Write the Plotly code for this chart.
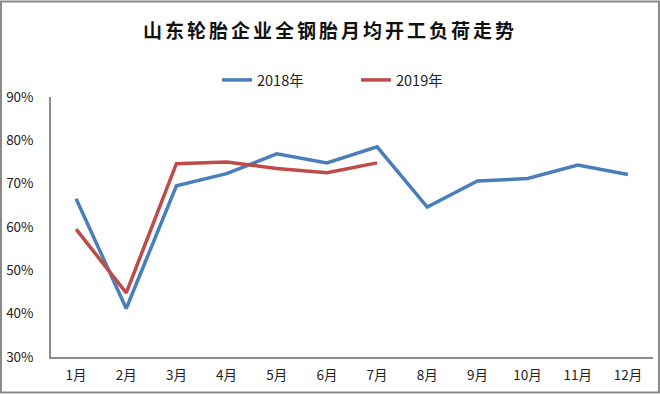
import plotly.graph_objects as go

months = ["1月", "2月", "3月", "4月", "5月", "6月", "7月", "8月", "9月", "10月", "11月", "12月"]
rate_2018 = [0.665, 0.412, 0.695, 0.723, 0.769, 0.748, 0.785, 0.646, 0.706, 0.712, 0.743, 0.721]
rate_2019 = [0.595, 0.448, 0.746, 0.750, 0.735, 0.725, 0.748]
y_ticks = [0.3, 0.4, 0.5, 0.6, 0.7, 0.8, 0.9]
y_tick_labels = ["30%", "40%", "50%", "60%", "70%", "80%", "90%"]

FONT = "Noto Sans CJK SC, Microsoft YaHei, sans-serif"

fig = go.Figure()
fig.add_trace(go.Scatter(x=months, y=rate_2018, mode="lines", name="2018年",
                         line=dict(color="#4A7EBB", width=3.5)))
fig.add_trace(go.Scatter(x=months[:len(rate_2019)], y=rate_2019, mode="lines", name="2019年",
                         line=dict(color="#BE4B48", width=3.5)))

L, R, T, B = 51, 7, 97, 37
W, H = 660, 394
pw, ph = W - L - R, H - T - B

fig.update_layout(
    width=W, height=H,
    margin=dict(l=L, r=R, t=T, b=B, autoexpand=False),
    paper_bgcolor="white", plot_bgcolor="white",
    font=dict(family=FONT, size=13, color="#222222"),
    title=dict(text="<span style='letter-spacing:3px'>山东轮胎企业全钢胎月均开工负荷走势</span>",
               x=0.5, xref="container", xanchor="center", y=1 - 31 / H, yanchor="middle",
               font=dict(family=FONT, size=19, color="#111111", weight="bold")),
    showlegend=True,
    legend=dict(orientation="h", xref="container", x=(222 - 5) / W, xanchor="left",
                yref="container", y=1 - 80 / H, yanchor="middle",
                entrywidth=94, entrywidthmode="pixels",
                font=dict(family=FONT, size=14.5, color="#222222"),
                bgcolor="rgba(0,0,0,0)"),
    xaxis=dict(type="category", categoryorder="array", categoryarray=months,
               range=[-0.5, 11.5], showgrid=False, zeroline=False,
               showline=True, linecolor="#8C8C8C", linewidth=1.5,
               ticks="", tickfont=dict(size=13.5, color="#222222"), ticklabelstandoff=5,
               fixedrange=True, automargin=False),
    yaxis=dict(range=[0.3, 0.9], tickvals=y_ticks, ticktext=y_tick_labels,
               showgrid=False, zeroline=False,
               showline=True, linecolor="#8C8C8C", linewidth=1.5,
               ticks="", tickfont=dict(size=13.5, color="#222222"), ticklabelstandoff=13,
               fixedrange=True, automargin=False),
    shapes=[dict(type="rect", xref="paper", yref="paper",
                 x0=(1 - L) / pw, x1=(659 - L) / pw,
                 y0=-(392.5 - (H - B)) / ph, y1=1 + (T - 1.5) / ph,
                 line=dict(color="#8A8A8A", width=2), fillcolor="rgba(0,0,0,0)", layer="below")],
)

fig.write_html("out.html", config={"displayModeBar": False},
               post_script="document.body.style.margin='0';document.body.style.overflow='hidden';")
